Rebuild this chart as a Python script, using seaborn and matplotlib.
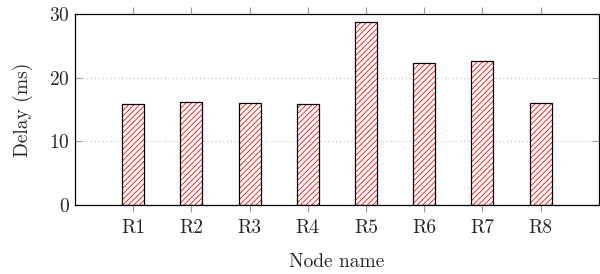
import matplotlib
matplotlib.use("Agg")
import matplotlib.pyplot as plt
import seaborn as sns
import pandas as pd

# ---- data ----
nodes = ["R1", "R2", "R3", "R4", "R5", "R6", "R7", "R8"]
delay_ms = [15.8, 16.2, 16.0, 15.9, 28.7, 22.3, 22.6, 16.0]

df = pd.DataFrame({"node": nodes, "delay": delay_ms})

sns.set_style("white")
plt.rcParams["font.family"] = ["cmr10", "DejaVu Serif"]
plt.rcParams["mathtext.fontset"] = "cm"
plt.rcParams["axes.formatter.use_mathtext"] = True
plt.rcParams["hatch.linewidth"] = 0.6

fig = plt.figure(figsize=(6, 2.74), dpi=100)
ax = fig.add_axes([0.125, 0.252, 0.873, 0.697])

# hatched fill (red lines), then black outline on top
sns.barplot(data=df, x="node", y="delay", color="white", edgecolor="red",
            hatch="//////", linewidth=0, width=0.38, ax=ax)
sns.barplot(data=df, x="node", y="delay", fill=False, edgecolor="black",
            linewidth=0.9, width=0.38, ax=ax)

ax.set_xlim(-1, 8)
ax.set_ylim(0, 30)
ax.set_yticks([0, 10, 20, 30])
ax.yaxis.grid(True, linestyle=(0, (1, 3)), color="#b0b0b0", linewidth=0.7)
ax.set_axisbelow(True)

for s in ax.spines.values():
    s.set_color("black")
    s.set_linewidth(0.9)

ax.tick_params(axis="x", direction="out", top=True, bottom=True, length=5,
               color="#999999", labelsize=14, pad=5)
ax.tick_params(axis="y", direction="in", left=True, right=True, length=5,
               color="#999999", labelsize=14)

ax.set_xlabel("Node name", fontsize=14, labelpad=12)
ax.set_ylabel("Delay (ms)", fontsize=14, labelpad=12)

fig.savefig("out.png", dpi=100)
plt.close()
